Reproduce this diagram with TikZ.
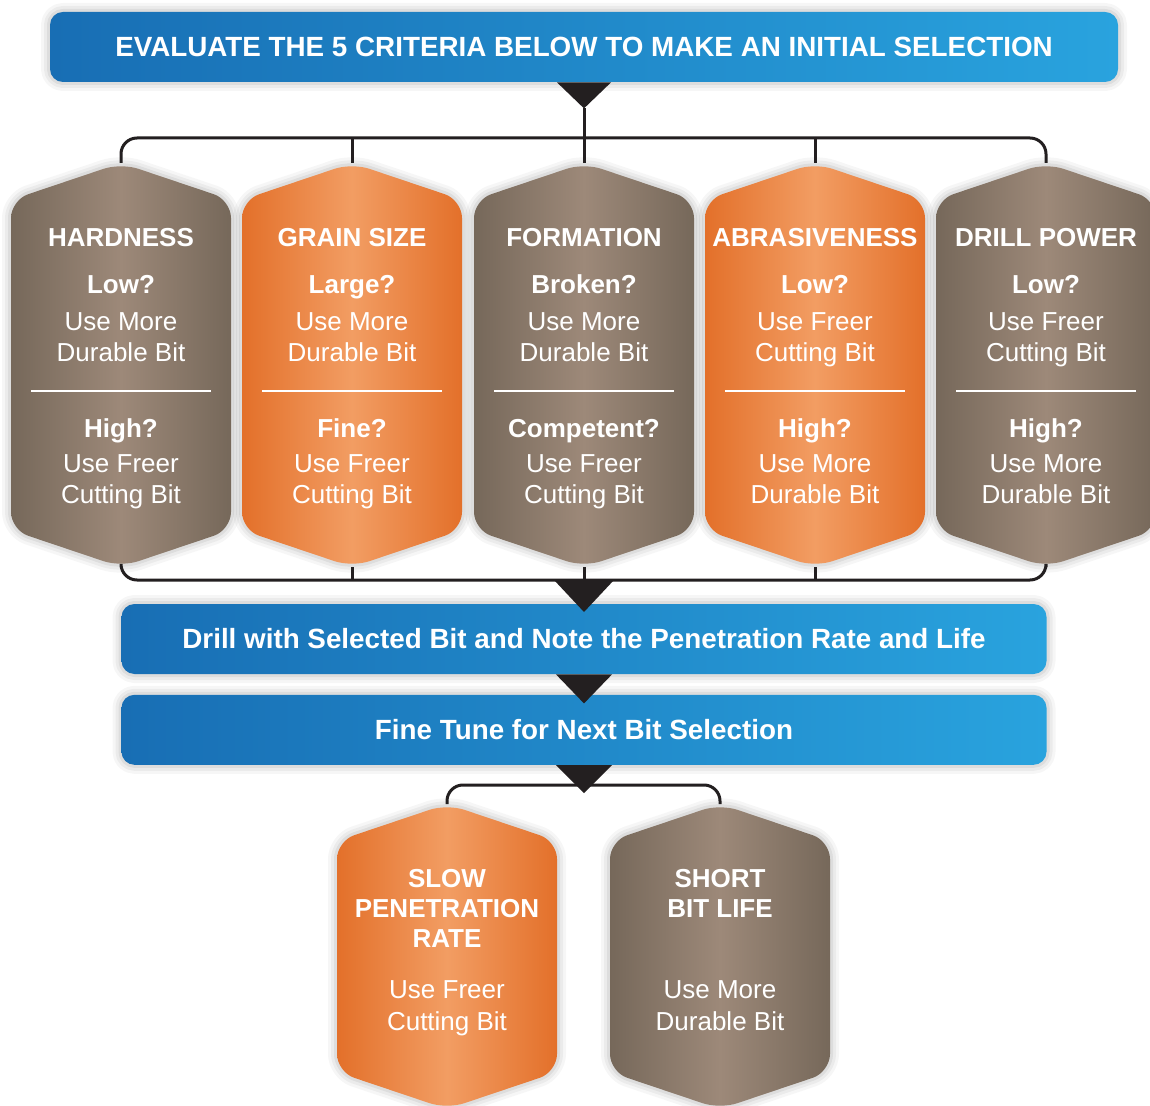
\documentclass[tikz,border=0pt]{standalone}
\usepackage{fontspec}
\setmainfont{Liberation Sans}
\usetikzlibrary{positioning}

\definecolor{bannerleft}{HTML}{186EB4}
\definecolor{bannerright}{HTML}{29A3DE}
\definecolor{brownedge}{HTML}{76685A}
\definecolor{brownmid}{HTML}{9D8979}
\definecolor{orangeedge}{HTML}{E3702A}
\definecolor{orangemid}{HTML}{F29D63}
\definecolor{linkdark}{HTML}{231F20}

% darker at both sides, light in the middle
\pgfdeclarehorizontalshading{brownbar}{100bp}{color(0bp)=(brownedge); color(25bp)=(brownedge); color(50bp)=(brownmid); color(75bp)=(brownedge); color(100bp)=(brownedge)}
\pgfdeclarehorizontalshading{orangebar}{100bp}{color(0bp)=(orangeedge); color(25bp)=(orangeedge); color(50bp)=(orangemid); color(75bp)=(orangeedge); color(100bp)=(orangeedge)}

\begin{document}
\begin{tikzpicture}[
    x=0.5pt, y=-0.5pt,
    softshadow/.style={
        preaction={draw=black, draw opacity=0.035, line width=9pt, line join=round},
        preaction={draw=black, draw opacity=0.045, line width=6pt, line join=round},
        preaction={draw=black, draw opacity=0.06, line width=3pt, line join=round}},
    banner/.style={rectangle, rounded corners=6.5pt, left color=bannerleft, right color=bannerright, text=white, font=\fontsize{13.9}{16}\selectfont\bfseries, minimum height=35pt, inner sep=0pt, softshadow},
    hexbrown/.style={shade, shading=brownbar, rounded corners=9pt, softshadow},
    hexorange/.style={shade, shading=orangebar, rounded corners=9pt, softshadow},
    hextext/.style={anchor=north, inner sep=0pt, align=center, text=white, font=\fontsize{13}{15.5}\selectfont},
    divider/.style={draw=white, line width=1.2pt},
    link/.style={draw=linkdark, line width=1.5pt, rounded corners=8pt},
    wedge/.style={fill=linkdark}
]
\clip (0,0) rectangle (1150,1106);
\fill[white] (0,0) rectangle (1150,1106);

% the five criteria
\path[hexbrown, shift={(121,0)}] (-110,365) -- (-110,200) -- (0,163) -- (110,200) -- (110,530) -- (0,567) -- (-110,530) -- cycle;
\path[hexorange, shift={(352,0)}] (-110,365) -- (-110,200) -- (0,163) -- (110,200) -- (110,530) -- (0,567) -- (-110,530) -- cycle;
\path[hexbrown, shift={(584,0)}] (-110,365) -- (-110,200) -- (0,163) -- (110,200) -- (110,530) -- (0,567) -- (-110,530) -- cycle;
\path[hexorange, shift={(815,0)}] (-110,365) -- (-110,200) -- (0,163) -- (110,200) -- (110,530) -- (0,567) -- (-110,530) -- cycle;
\path[hexbrown, shift={(1046,0)}] (-110,365) -- (-110,200) -- (0,163) -- (110,200) -- (110,530) -- (0,567) -- (-110,530) -- cycle;

\coordinate (hardtop) at (121,163);   \coordinate (hardbot) at (121,567);
\coordinate (graintop) at (352,163);  \coordinate (grainbot) at (352,567);
\coordinate (formtop) at (584,163);   \coordinate (formbot) at (584,567);
\coordinate (abrtop) at (815,163);    \coordinate (abrbot) at (815,567);
\coordinate (powertop) at (1046,163); \coordinate (powerbot) at (1046,567);
\coordinate (topbar) at (584,138);
\coordinate (lowbar) at (584,580);

\node[hextext] (hard) at (121,228) {\textbf{HARDNESS}\\[8pt]\textbf{Low?}\\[3pt]Use More\\Durable Bit\\[22.5pt]\textbf{High?}\\[2pt]Use Freer\\Cutting Bit};
\node[hextext] (grain) at (352,228) {\textbf{GRAIN SIZE}\\[8pt]\textbf{Large?}\\[3pt]Use More\\Durable Bit\\[22.5pt]\textbf{Fine?}\\[2pt]Use Freer\\Cutting Bit};
\node[hextext] (form) at (584,228) {\textbf{FORMATION}\\[8pt]\textbf{Broken?}\\[3pt]Use More\\Durable Bit\\[22.5pt]\textbf{Competent?}\\[2pt]Use Freer\\Cutting Bit};
\node[hextext] (abr) at (815,228) {\textbf{ABRASIVENESS}\\[8pt]\textbf{Low?}\\[3pt]Use Freer\\Cutting Bit\\[22.5pt]\textbf{High?}\\[2pt]Use More\\Durable Bit};
\node[hextext] (power) at (1046,228) {\textbf{DRILL POWER}\\[8pt]\textbf{Low?}\\[3pt]Use Freer\\Cutting Bit\\[22.5pt]\textbf{High?}\\[2pt]Use More\\Durable Bit};

\draw[divider] (31,391) -- (211,391);
\draw[divider] (262,391) -- (442,391);
\draw[divider] (494,391) -- (674,391);
\draw[divider] (725,391) -- (905,391);
\draw[divider] (956,391) -- (1136,391);

% outcome boxes
\path[hexorange, shift={(447,0)}] (-110,950) -- (-110,841) -- (0,804) -- (110,841) -- (110,1072) -- (0,1109) -- (-110,1072) -- cycle;
\path[hexbrown, shift={(720,0)}] (-110,950) -- (-110,841) -- (0,804) -- (110,841) -- (110,1072) -- (0,1109) -- (-110,1072) -- cycle;
\coordinate (slowtop) at (447,804);
\coordinate (shorttop) at (720,804);
\coordinate (tunebar) at (584,785);

\node[hextext, font=\fontsize{13}{15}\selectfont] (slow) at (447,869) {\textbf{SLOW}\\\textbf{PENETRATION}\\\textbf{RATE}\\[10.5pt]Use Freer\\[1pt]Cutting Bit};
\node[hextext, font=\fontsize{13}{15}\selectfont] (short) at (720,869) {\textbf{SHORT}\\\textbf{BIT LIFE}\\[25.5pt]Use More\\[1pt]Durable Bit};

% connectors
\draw[link] (hardtop) |- (topbar) -| (powertop);
\draw[link] (graintop) -- (graintop |- topbar);
\draw[link] (abrtop) -- (abrtop |- topbar);
\draw[link] (hardbot) |- (lowbar) -| (powerbot);
\draw[link] (grainbot) -- (grainbot |- lowbar);
\draw[link] (abrbot) -- (abrbot |- lowbar);
\draw[link] (formbot) -- (lowbar);
\draw[link] (slowtop) |- (tunebar) -| (shorttop);

% banners
\node[banner, minimum width=534pt] (evaluate) at (584,47) {EVALUATE THE 5 CRITERIA BELOW TO MAKE AN INITIAL SELECTION};
\node[banner, minimum width=462.5pt] (drill) at (584,639) {Drill with Selected Bit and Note the Penetration Rate and Life};
\node[banner, minimum width=462.5pt, below=10pt of drill] (tune) {Fine Tune for Next Bit Selection};

\draw[link] ([yshift=-13pt]evaluate.south) -- (formtop);
\fill[wedge] ([xshift=-13.5pt]evaluate.south) -- ([xshift=13.5pt]evaluate.south) -- ([yshift=-13pt]evaluate.south) -- cycle;
\fill[wedge] ([xshift=-15pt]lowbar) -- ([xshift=15pt]lowbar) -- ([yshift=-16pt]lowbar) -- cycle;
\fill[wedge] ([xshift=-14pt]drill.south) -- ([xshift=14pt]drill.south) -- ([yshift=-14.5pt]drill.south) -- cycle;
\fill[wedge] ([xshift=-14pt]tune.south) -- ([xshift=14pt]tune.south) -- ([yshift=-14pt]tune.south) -- cycle;
\end{tikzpicture}
\end{document}
